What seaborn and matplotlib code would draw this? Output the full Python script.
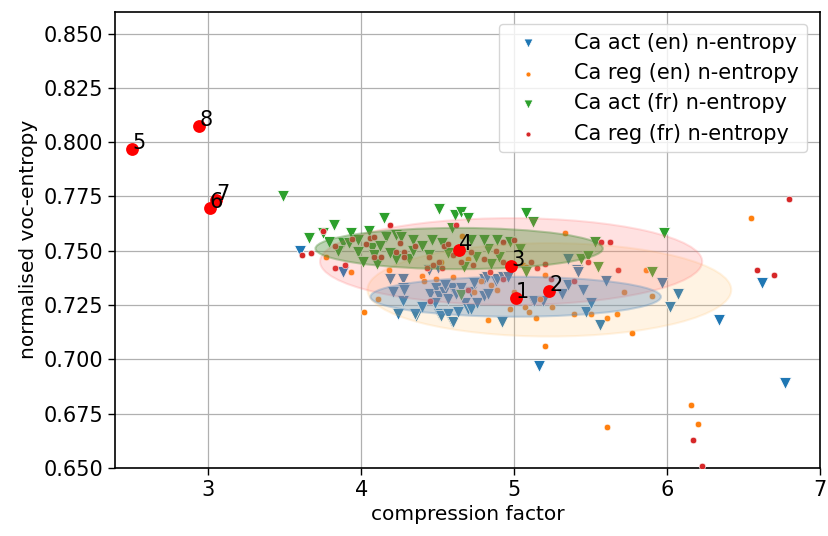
import numpy as np
import pandas as pd
import matplotlib
matplotlib.use("Agg")
import matplotlib.pyplot as plt
from matplotlib.patches import Ellipse
import seaborn as sns

# ---- data ----
act_en_x = [3.60, 3.88, 4.19, 4.21, 4.27, 4.27, 4.27, 4.24, 4.28, 4.36, 4.35, 4.40, 4.44, 4.45,
            4.49, 4.50, 4.51, 4.51, 4.52, 4.54, 4.57, 4.57, 4.59, 4.59, 4.60, 4.63, 4.68, 4.70,
            4.72, 4.72, 4.74, 4.76, 4.80, 4.80, 4.82, 4.83, 4.88, 4.89, 4.92, 4.93, 4.96, 5.12,
            5.13, 5.16, 5.19, 5.31, 5.35, 5.35, 5.41, 5.42, 5.45, 5.47, 5.50, 5.56, 5.60, 5.97,
            6.02, 6.07, 6.34, 6.62, 6.77, 4.55, 4.62, 4.65, 4.48]
act_en_y = [0.750, 0.740, 0.737, 0.731, 0.737, 0.733, 0.727, 0.721, 0.732, 0.720, 0.721, 0.724, 0.741, 0.730,
            0.733, 0.742, 0.729, 0.721, 0.720, 0.731, 0.728, 0.721, 0.733, 0.717, 0.717, 0.722, 0.726, 0.723,
            0.723, 0.731, 0.735, 0.726, 0.729, 0.737, 0.738, 0.730, 0.736, 0.737, 0.717, 0.738, 0.738, 0.727,
            0.727, 0.697, 0.727, 0.730, 0.734, 0.746, 0.741, 0.740, 0.732, 0.722, 0.726, 0.716, 0.736, 0.735,
            0.724, 0.730, 0.718, 0.735, 0.689, 0.734, 0.730, 0.733, 0.726]

reg_en_x = [3.77, 3.93, 4.02, 4.11, 4.18, 4.40, 4.41, 4.49, 4.66, 4.70, 4.74, 4.78, 4.83, 4.89,
            4.97, 5.06, 5.07, 5.08, 5.10, 5.14, 5.17, 5.20, 5.20, 5.25, 5.33, 5.39, 5.50, 5.61,
            5.67, 5.72, 5.77, 5.86, 5.90, 5.61, 6.16, 6.20, 6.55, 4.60, 4.85, 5.00, 4.52]
reg_en_y = [0.747, 0.740, 0.722, 0.728, 0.741, 0.7385, 0.736, 0.737, 0.757, 0.746, 0.731, 0.736, 0.718, 0.732,
            0.723, 0.7435, 0.724, 0.7426, 0.722, 0.719, 0.728, 0.739, 0.706, 0.724, 0.758, 0.721, 0.721, 0.719,
            0.721, 0.731, 0.712, 0.741, 0.729, 0.669, 0.679, 0.670, 0.765, 0.738, 0.734, 0.731, 0.745]

act_fr_x = [3.49, 3.66, 3.79, 3.82, 3.88, 3.92, 3.93, 3.98, 3.98, 4.01, 4.05, 4.07, 4.08, 4.15,
            4.16, 4.23, 4.23, 4.26, 4.31, 4.34, 4.34, 4.12, 4.19, 4.40, 4.44, 4.51, 4.53, 4.57,
            4.59, 4.61, 4.65, 4.67, 4.70, 4.72, 4.75, 4.83, 4.89, 4.90, 4.97, 5.04, 5.08, 5.12,
            5.08, 5.44, 5.48, 5.53, 5.55, 5.90, 5.98, 4.65, 3.75, 3.85, 4.10, 4.46, 4.80, 4.85]
act_fr_y = [0.775, 0.756, 0.754, 0.762, 0.7535, 0.7535, 0.758, 0.755, 0.7495, 0.745, 0.759, 0.7514, 0.748, 0.765,
            0.7565, 0.746, 0.7574, 0.7565, 0.746, 0.755, 0.750, 0.752, 0.749, 0.752, 0.748, 0.769, 0.7535, 0.749,
            0.7606, 0.7666, 0.768, 0.7426, 0.765, 0.755, 0.747, 0.751, 0.755, 0.747, 0.754, 0.751, 0.7675, 0.763,
            0.740, 0.746, 0.7477, 0.754, 0.7426, 0.740, 0.758, 0.7297, 0.758, 0.750, 0.744, 0.755, 0.755, 0.744]

reg_fr_x = [3.61, 3.67, 3.75, 3.83, 3.89, 3.83, 3.94, 4.03, 4.06, 4.08, 4.08, 4.13, 4.19, 4.25,
            4.23, 4.28, 4.28, 4.44, 4.51, 4.47, 4.43, 4.53, 4.54, 4.57, 4.62, 4.65, 4.72, 4.73,
            4.80, 4.84, 4.93, 4.93, 4.93, 4.70, 4.45, 5.00, 5.11, 5.20, 5.15, 5.24, 5.39, 5.48,
            5.57, 5.63, 5.68, 6.59, 6.70, 6.80, 6.17, 6.23, 4.35, 4.60, 4.88]
reg_fr_y = [0.748, 0.749, 0.759, 0.742, 0.7435, 0.752, 0.7555, 0.753, 0.756, 0.7565, 0.747, 0.747, 0.762, 0.7535,
            0.7495, 0.7495, 0.747, 0.747, 0.745, 0.7435, 0.742, 0.742, 0.752, 0.753, 0.762, 0.745, 0.7495, 0.7435,
            0.746, 0.740, 0.754, 0.745, 0.737, 0.732, 0.727, 0.755, 0.745, 0.744, 0.742, 0.737, 0.736, 0.745,
            0.754, 0.754, 0.741, 0.741, 0.739, 0.774, 0.663, 0.651, 0.752, 0.748, 0.750]

series_labels = ["Ca act (en) n-entropy", "Ca reg (en) n-entropy",
                 "Ca act (fr) n-entropy", "Ca reg (fr) n-entropy"]

# ellipse centres / widths / heights (orange, red, blue, green drawing order)
ell_cx = [5.23, 4.98, 5.01, 4.64]
ell_cy = [0.732, 0.745, 0.7288, 0.751]
ell_w = [2.38, 2.50, 1.90, 1.88]
ell_h = [0.043, 0.040, 0.0184, 0.019]

# labelled points
lab_x = [5.01, 5.23, 4.98, 4.64, 2.50, 3.01, 3.05, 2.94]
lab_y = [0.7283, 0.7316, 0.7431, 0.7505, 0.797, 0.7698, 0.7735, 0.8076]
lab_txt = ["1", "2", "3", "4", "5", "6", "7", "8"]

xticks = [3, 4, 5, 6, 7]
yticks = [0.650, 0.675, 0.700, 0.725, 0.750, 0.775, 0.800, 0.825, 0.850]

# ---- plot ----
sns.set_style("ticks")
plt.rcParams['font.family'] = ['DejaVu Sans']
plt.rcParams['text.color'] = 'black'
plt.rcParams['axes.labelcolor'] = 'black'
plt.rcParams['xtick.color'] = 'black'
plt.rcParams['ytick.color'] = 'black'

fig, ax = plt.subplots(figsize=(8.29, 5.36), dpi=100)
fig.subplots_adjust(left=0.139, right=0.989, top=0.978, bottom=0.127)

df_ae = pd.DataFrame({"x": act_en_x, "y": act_en_y})
df_re = pd.DataFrame({"x": reg_en_x, "y": reg_en_y})
df_af = pd.DataFrame({"x": act_fr_x, "y": act_fr_y})
df_rf = pd.DataFrame({"x": reg_fr_x, "y": reg_fr_y})

sns.scatterplot(data=df_ae, x="x", y="y", marker="v", s=75, color="#1f77b4",
                edgecolor="white", linewidth=0.6, label=series_labels[0], ax=ax, zorder=3)
sns.scatterplot(data=df_re, x="x", y="y", marker="o", s=22, color="#ff7f0e",
                edgecolor="white", linewidth=0.4, label=series_labels[1], ax=ax, zorder=3)
sns.scatterplot(data=df_af, x="x", y="y", marker="v", s=75, color="#2ca02c",
                edgecolor="white", linewidth=0.6, label=series_labels[2], ax=ax, zorder=3)
sns.scatterplot(data=df_rf, x="x", y="y", marker="o", s=22, color="#d62728",
                edgecolor="white", linewidth=0.4, label=series_labels[3], ax=ax, zorder=3)

ell_face = ["#ffbf66", "#ff6b6b", "#5a8fc0", "#4f8f3a"]
ell_alpha = [0.18, 0.2, 0.32, 0.38]
for cx, cy, w, h, fc, a in zip(ell_cx, ell_cy, ell_w, ell_h, ell_face, ell_alpha):
    e = Ellipse((cx, cy), w, h, facecolor=fc, edgecolor=fc, alpha=a, lw=1.5, zorder=4)
    ax.add_patch(e)

ax.scatter(lab_x, lab_y, s=85, color="red", zorder=5, linewidths=0)
for x, y, t in zip(lab_x, lab_y, lab_txt):
    ax.text(x, y, t, fontsize=15, zorder=6)

ax.set_xlim(2.39, 7.0)
ax.set_ylim(0.65, 0.860)
ax.set_xticks(xticks)
ax.set_yticks(yticks)
ax.set_yticklabels([f"{v:.3f}" for v in yticks])
ax.tick_params(labelsize=15, length=5, width=1)
ax.grid(True, color="#b0b0b0", lw=0.9)
ax.set_axisbelow(True)
ax.set_xlabel("compression factor", fontsize=14.5)
ax.set_ylabel("normalised voc-entropy", fontsize=14.5)
for sp in ax.spines.values():
    sp.set_color("black")
    sp.set_linewidth(1.2)

leg = ax.legend(loc="upper right", fontsize=15, markerscale=0.75, handletextpad=1.2,
                borderaxespad=0.6, framealpha=0.8)

fig.savefig("out.png", dpi=100)
